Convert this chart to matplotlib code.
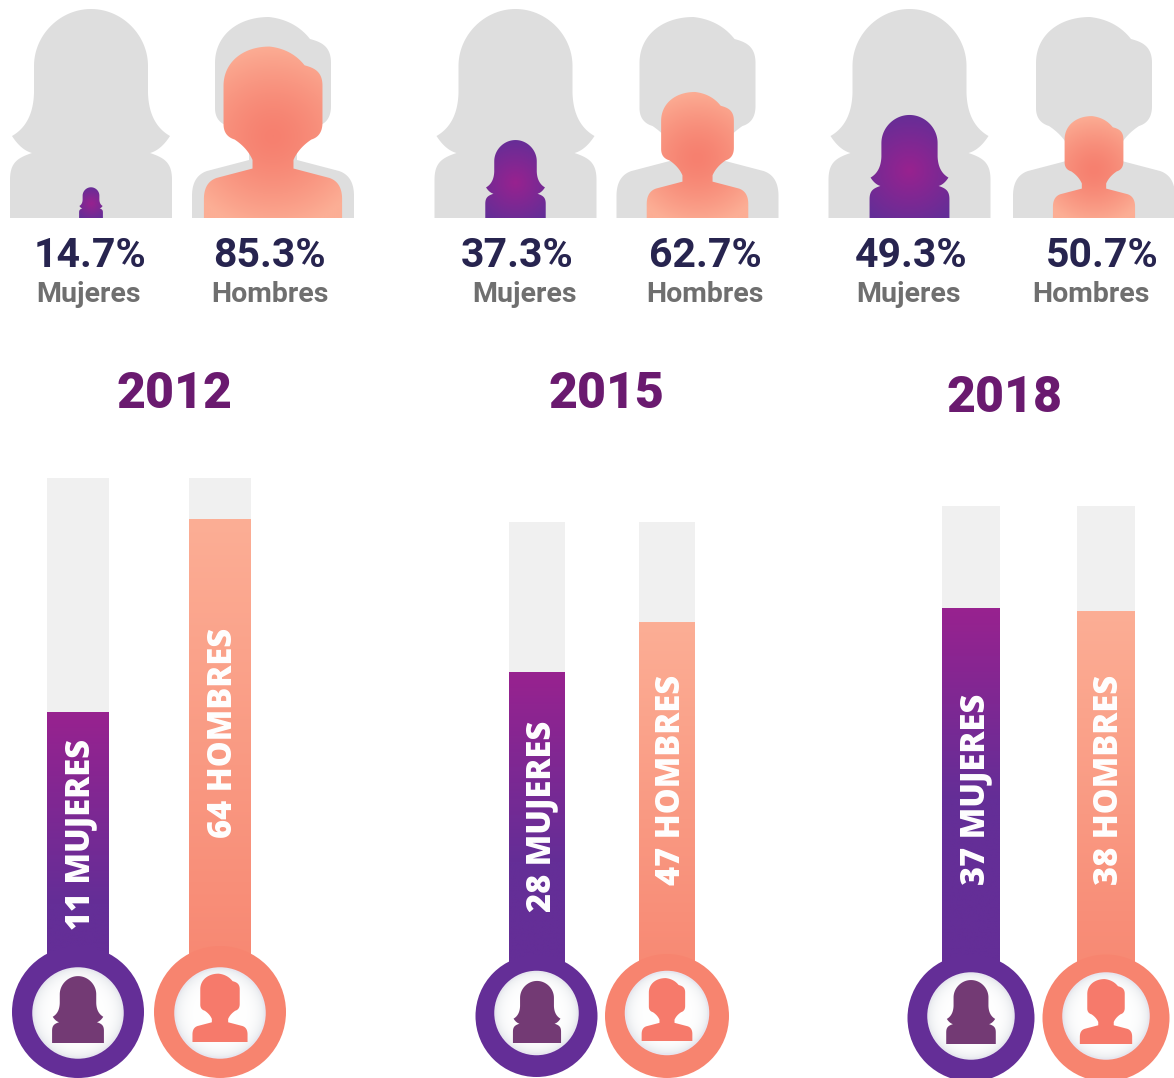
import numpy as np
import matplotlib
matplotlib.use("Agg")
import matplotlib.pyplot as plt
from matplotlib.path import Path
from matplotlib.patches import PathPatch, Circle, Rectangle
from matplotlib.colors import LinearSegmentedColormap
from math import comb

# ---------- data ----------
years = ["2012", "2015", "2018"]
women_pct = [14.7, 37.3, 49.3]
men_pct = [85.3, 62.7, 50.7]
women_count = [11, 28, 37]
men_count = [64, 47, 38]
# how far each bar is filled along its track (%)
women_fill = [56.0, 69.6, 80.0]
men_fill = [92.2, 79.7, 79.4]

# ---------- layout ----------
W, H = 1174, 1078
sil_base = 218
w_sil_x = [91, 515.5, 909.5]
m_sil_x = [273, 697.5, 1094]
w_pct_x = [90, 517, 911]
m_pct_x = [269, 705, 1102]
w_lab_x = [88, 524, 909]
m_lab_x = [270, 705, 1091]
year_pos = [(175, 389), (606, 390), (1004, 393)]
w_bar = [(47, 109), (509, 565), (942, 1000)]
m_bar = [(189, 251), (639, 695), (1077, 1135)]
track_top = [478, 522, 506]
w_circ = [(78, 1012, 66), (536.5, 1016, 61), (971, 1018, 63.5)]
m_circ = [(220, 1012, 66), (667, 1016, 62), (1106, 1018, 63.5)]
inner_y = [1013, 1013, 1016]
inner_r = [44, 40.5, 42]
w_icon = [(78, 1043, .32), (537, 1043, .297), (971, 1044, .306)]
m_icon = [(220, 1042, .34), (667, 1041, .313), (1106, 1044, .323)]
w_txt = [(76, 930), (537, 912), (971, 885)]
m_txt = [(219, 838), (667, 885), (1105, 885)]

PURPLE = "#642e97"
PURPLE_HI = "#98228f"
CORAL = "#f6806f"
CORAL_HI = "#fcae95"
NAVY = "#27244f"
GREY = "#6f6f6f"
YEARC = "#6a1a6f"
SIL = "#dedede"
TRACK = "#f0f0f0"


def bezier(ctrl, n=40):
    p = np.asarray(ctrl, float)
    d = len(p) - 1
    t = np.linspace(0, 1, n)[:, None]
    out = np.zeros((n, 2))
    for k in range(d + 1):
        out += comb(d, k) * t**k * (1 - t)**(d - k) * p[k]
    return out


def outline(segs):
    return np.vstack([bezier(s) for s in segs])


half = [
    [(81, 0), (81, 38)],
    [(81, 38), (81, 55), (74, 60), (59, 65)],
    [(59, 65), (70, 68), (79, 82)],
    [(79, 82), (58, 94), (57, 125)],
    [(57, 125), (57, 152)],
    [(57, 152), (57, 183), (31, 209), (0, 209)],
]
wr = outline(half)
WOMAN = np.vstack([wr, (wr * [-1, 1])[::-1]])
MAN = outline([
    [(81, 0), (81, 22)],
    [(81, 22), (81, 42), (66, 47)],
    [(66, 47), (24, 58)],
    [(24, 58), (24, 68)],
    [(24, 68), (30, 82), (45, 92)],
    [(45, 92), (58, 96), (58, 112)],
    [(58, 112), (58, 155)],
    [(58, 155), (58, 172), (48, 176), (37, 179)],
    [(37, 179), (22, 198), (-4, 201)],
    [(-4, 201), (-36, 201), (-58, 182), (-58, 155)],
    [(-58, 155), (-58, 110)],
    [(-58, 110), (-58, 96), (-45, 92)],
    [(-45, 92), (-30, 82), (-24, 68)],
    [(-24, 68), (-24, 58)],
    [(-24, 58), (-66, 47)],
    [(-66, 47), (-81, 42), (-81, 22)],
    [(-81, 22), (-81, 0)],
])

fig = plt.figure(figsize=(W / 100, H / 100), dpi=100, facecolor="white")
ax = fig.add_axes([0, 0, 1, 1])
ax.set_xlim(0, W)
ax.set_ylim(H, 0)
ax.axis("off")


def sil_patch(shape, cx, base, s, **kw):
    xy = np.column_stack([cx + shape[:, 0] * s, base - shape[:, 1] * s])
    return PathPatch(Path(np.vstack([xy, xy[0]]), closed=True), lw=0, **kw)


def radial(patch, cx, cy, rx, ry, inner, outer, z, p=1.0):
    ax.add_patch(patch)
    patch.set_facecolor("none")
    patch.set_zorder(z)
    x0, x1, y0, y1 = cx - rx, cx + rx, cy - ry, cy + ry
    g = np.linspace(-1, 1, 200)
    X, Y = np.meshgrid(g, g)
    R = np.clip(np.sqrt(X**2 + Y**2), 0, 1) ** p
    cm = LinearSegmentedColormap.from_list("r", [inner, outer])
    im = ax.imshow(R, cmap=cm, vmin=0, vmax=1, extent=(x0, x1, y1, y0),
                   origin="upper", aspect="auto", zorder=z, interpolation="bilinear")
    im.set_clip_path(patch)


def linear_bar(x0, x1, top, bottom, stops, z):
    g = np.linspace(0, 1, 256).reshape(-1, 1)
    cm = LinearSegmentedColormap.from_list("l", stops)
    ax.imshow(g, cmap=cm, vmin=0, vmax=1, extent=(x0, x1, bottom, top),
              origin="upper", aspect="auto", zorder=z, interpolation="bilinear")


for i, yr in enumerate(years):
    # top silhouettes, scaled by the percentage
    ax.add_patch(sil_patch(WOMAN, w_sil_x[i], sil_base, 1, fc=SIL, zorder=1))
    ax.add_patch(sil_patch(MAN, m_sil_x[i], sil_base, 1, fc=SIL, zorder=1))
    sw, sm = women_pct[i] / 100, men_pct[i] / 100
    radial(sil_patch(WOMAN, w_sil_x[i], sil_base, sw), w_sil_x[i], sil_base - 95 * sw,
           118 * sw, 118 * sw, PURPLE_HI, PURPLE, 2)
    radial(sil_patch(MAN, m_sil_x[i], sil_base, sm), m_sil_x[i], sil_base - 95 * sm,
           112 * sm, 108 * sm, CORAL, CORAL_HI, 2, p=1.5)

    # texts
    for x, val in ((w_pct_x[i], women_pct[i]), (m_pct_x[i], men_pct[i])):
        ax.text(x, 252, f"{val}%", color=NAVY, fontsize=29.5, family="Roboto",
                fontweight=700, ha="center", va="center_baseline")
    ax.text(w_lab_x[i], 292, "Mujeres", color=GREY, fontsize=20.5, family="Roboto",
            fontweight=700, ha="center", va="center_baseline")
    ax.text(m_lab_x[i], 292, "Hombres", color=GREY, fontsize=20.5, family="Roboto",
            fontweight=700, ha="center", va="center_baseline")
    ax.text(*year_pos[i], yr, color=YEARC, fontsize=36, family="Roboto",
            fontweight=900, ha="center", va="center_baseline")

    # bars
    for bar, circ, fill, kind in ((w_bar[i], w_circ[i], women_fill[i], "w"),
                                  (m_bar[i], m_circ[i], men_fill[i], "m")):
        x0, x1 = bar
        cx, cy, r = circ
        ax.add_patch(Rectangle((x0, track_top[i]), x1 - x0, cy - track_top[i],
                               fc=TRACK, lw=0, zorder=3))
        top = cy - (cy - track_top[i]) * fill / 100
        if kind == "w":
            frac = min(1, 190 / (cy - top))
            stops = [(0, PURPLE_HI), (frac, PURPLE), (1, PURPLE)]
            color = PURPLE
        else:
            stops = [(0, CORAL_HI), (1, "#f7846f")]
            color = "#f7846f"
        linear_bar(x0, x1, top, cy, stops, 4)
        ax.add_patch(Circle((cx, cy), r, fc=color, lw=0, zorder=5))
        # white medallion
        ax.add_patch(Circle((cx, inner_y[i]), inner_r[i], fc="white", ec="#e7e6ef",
                            lw=2.5, zorder=6))
        radial(Circle((cx, inner_y[i]), inner_r[i]), cx, inner_y[i], inner_r[i], inner_r[i],
               "#ffffff", "#ebedf0", 6.5, p=6)

    ix, ib, isc = w_icon[i]
    ax.add_patch(sil_patch(WOMAN, ix, ib, isc, fc="#733a74", zorder=7))
    ix, ib, isc = m_icon[i]
    ax.add_patch(sil_patch(MAN, ix, ib, isc, fc="#f67a6b", zorder=7))

    # rotated bar labels
    ax.text(*w_txt[i], f"{women_count[i]} MUJERES", color="white", fontsize=23.5,
            family="Open Sans", fontweight=800, rotation=90, rotation_mode="anchor",
            ha="left", va="center_baseline", zorder=8)
    ax.text(*m_txt[i], f"{men_count[i]} HOMBRES", color="white", fontsize=23.5,
            family="Open Sans", fontweight=800, rotation=90, rotation_mode="anchor",
            ha="left", va="center_baseline", zorder=8)

ax.set_xlim(0, W)
ax.set_ylim(H, 0)
fig.savefig("out.png", dpi=100, facecolor="white")
